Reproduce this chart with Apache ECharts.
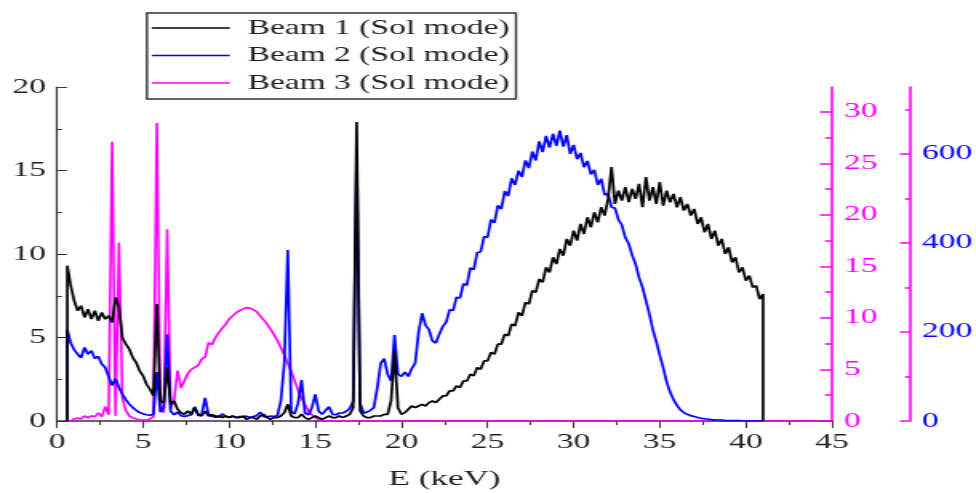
<!DOCTYPE html>
<html>
<head>
<meta charset="utf-8">
<script src="https://cdn.jsdelivr.net/npm/echarts@6/dist/echarts.min.js"></script>
<style>
  html, body { margin: 0; padding: 0; background: #fff; overflow: hidden; }
  /* the source figure is stretched sideways, so the chart is drawn narrow and scaled */
  #chart { width: 610px; height: 493px; transform: scaleX(1.6); transform-origin: 0 0; }
</style>
</head>
<body>
<div id="chart"></div>
<script>
// energy grid: every series is sampled every 0.2 keV from 0.6 keV
const STEP = 0.2
const START = 0.6

// Beam 1 (left axis)
const beam1 = [
  9.3, 8.1, 7.2, 6.6, 6.9, 6.2, 6.7, 6.1, 6.6, 6.0,        // 0.6 - 2.4
  6.5, 6.1, 6.3, 5.9, 7.4, 6.8, 5.0, 4.6, 4.3, 3.8,        // 2.6 - 4.4
  3.5, 3.0, 2.7, 2.2, 1.9, 1.5, 7.0, 1.2, 1.1, 3.2,        // 4.6 - 6.4
  1.0, 1.2, 0.7, 0.5, 0.4, 0.6, 0.4, 0.8, 0.4, 0.3,        // 6.6 - 8.4
  0.6, 0.3, 0.4, 0.2, 0.3, 0.2, 0.3, 0.2, 0.3, 0.2,        // 8.6 - 10.4
  0.2, 0.3, 0.1, 0.2, 0.2, 0.1, 0.3, 0.4, 0.2, 0.1,        // 10.6 - 12.4
  0.2, 0.2, 0.3, 0.5, 1.0, 0.3, 0.2, 0.2, 0.4, 0.2,        // 12.6 - 14.4
  0.1, 0.2, 0.3, 0.2, 0.1, 0.2, 0.3, 0.2, 0.2, 0.3,        // 14.6 - 16.4
  0.2, 0.3, 0.4, 0.8, 17.9, 0.6, 0.3, 0.2, 0.2, 0.3,       // 16.6 - 18.4
  0.3, 0.3, 0.4, 0.4, 1.2, 4.2, 0.8, 0.4, 0.5, 0.7,        // 18.6 - 20.4
  0.9, 0.8, 0.9, 1.0, 0.9, 1.1, 1.2, 1.1, 1.3, 1.5,        // 20.6 - 22.4
  1.5, 1.8, 1.8, 2.1, 2.0, 2.4, 2.4, 2.8, 2.7, 3.2,        // 22.6 - 24.4
  3.1, 3.6, 3.6, 4.1, 4.0, 4.6, 4.6, 5.2, 5.1, 5.8,        // 24.6 - 26.4
  5.7, 6.5, 6.3, 7.1, 7.0, 7.8, 7.7, 8.5, 8.3, 9.2,        // 26.6 - 28.4
  8.9, 9.8, 9.4, 10.3, 9.9, 10.9, 10.5, 11.4, 10.8, 11.8,  // 28.6 - 30.4
  11.2, 12.2, 11.6, 12.5, 11.9, 12.8, 12.3, 13.3, 15.2, 13.0, // 30.6 - 32.4
  13.8, 13.2, 14.0, 13.1, 13.9, 13.3, 14.2, 12.8, 14.6, 13.2, // 32.6 - 34.4
  14.0, 13.0, 14.3, 12.9, 13.8, 13.1, 13.6, 12.8, 13.4, 12.6, // 34.6 - 36.4
  13.0, 12.3, 12.7, 11.8, 12.2, 11.3, 11.8, 10.9, 11.4, 10.5, // 36.6 - 38.4
  10.9, 10.0, 10.4, 9.5, 9.8, 8.9, 9.2, 8.4, 8.7, 8.0,     // 38.6 - 40.4
  8.1, 7.3, 7.6                                            // 40.6 - 41.0
]

// Beam 2 (outer right axis)
const beam2 = [
  205, 175, 160, 150, 142, 165, 150, 158, 140, 145,        // 0.6 - 2.4
  128, 120, 100, 80, 95, 75, 60, 48, 38, 30,               // 2.6 - 4.4
  24, 19, 16, 14, 13, 15, 110, 20, 30, 195,                // 4.6 - 6.4
  22, 14, 20, 12, 10, 12, 14, 32, 12, 14,                  // 6.6 - 8.4
  52, 14, 10, 12, 9, 16, 10, 9, 11, 8,                     // 8.6 - 10.4
  10, 9, 11, 8, 10, 12, 20, 10, 9, 11,                     // 10.6 - 12.4
  10, 12, 45, 130, 384, 22, 16, 40, 92, 18,                // 12.6 - 14.4
  14, 30, 60, 22, 15, 24, 32, 15, 14, 18,                  // 14.6 - 16.4
  18, 22, 28, 45, 595, 40, 18, 20, 24, 30,                 // 16.6 - 18.4
  75, 130, 140, 105, 90, 193, 105, 100, 110, 100,          // 18.6 - 20.4
  118, 130, 200, 242, 215, 205, 180, 175, 195, 212,        // 20.6 - 22.4
  222, 250, 248, 278, 276, 308, 305, 344, 340, 378,        // 22.6 - 24.4
  380, 414, 412, 452, 445, 484, 476, 516, 505, 545,        // 24.6 - 26.4
  530, 562, 548, 585, 568, 605, 585, 628, 604, 640,        // 26.6 - 28.4
  614, 645, 618, 652, 616, 642, 600, 620, 588, 602,        // 28.6 - 30.4
  570, 584, 554, 564, 530, 544, 508, 510, 480, 478,        // 30.6 - 32.4
  452, 440, 412, 398, 372, 352, 322, 300, 270, 240,        // 32.6 - 34.4
  205, 178, 148, 120, 88, 65, 48, 35, 25, 19,              // 34.6 - 36.4
  15, 12, 10, 8, 6, 5, 4, 3, 2, 2,                         // 36.6 - 38.4
  2, 1, 1, 1, 1, 1, 0, 0, 0, 0,                            // 38.6 - 40.4
  0, 0, 0                                                  // 40.6 - 41.0
]

// Beam 3 (inner right axis)
const beam3 = [
  0, 0, 0.2, 0.3, 0.2, 0.5, 0.3, 0.5, 0.4, 0.8,            // 0.6 - 2.4
  0.4, 1.4, 0.6, 27.1, 0.5, 17.3, 2.2, 1.0, 0.5, 0.3,      // 2.6 - 4.4
  0.2, 0.1, 0.1, 0.1, 0.2, 0.4, 28.9, 1.5, 0.8, 18.6,      // 4.6 - 6.4
  1.2, 2.0, 4.9, 3.2, 3.9, 4.6, 5.0, 5.2, 5.4, 6.0,        // 6.6 - 8.4
  6.2, 7.6, 7.4, 8.1, 8.6, 9.0, 9.4, 9.9, 10.2, 10.5,      // 8.6 - 10.4
  10.7, 10.85, 11.0, 10.95, 10.8, 10.6, 10.2, 9.8, 9.4, 8.9, // 10.6 - 12.4
  8.4, 7.8, 7.1, 6.4, 5.6, 4.8, 3.9, 3.0, 2.2, 1.6,        // 12.6 - 14.4
  1.0, 0.6, 0.3, 0.15, 0.05, 0, 0, 0, 0, 0                 // 14.6 - 16.4
]

const xTicks = { min: 0, max: 45, interval: 5 }
const leftTicks = { min: 0, max: 20, interval: 5 }
const pinkTicks = [0, 5, 10, 15, 20, 25, 30]
const pinkMinor = [2.5, 7.5, 12.5, 17.5, 22.5, 27.5]
const pinkMax = 32.4
const blueTicks = [0, 200, 400, 600]
const blueMinor = [100, 300, 500, 700]
const blueMax = 750

const NAMES = ['Beam 1 (Sol mode)', 'Beam 2 (Sol mode)', 'Beam 3 (Sol mode)']
const FONT = 'Liberation Serif'
const PINK = '#ff00ff'
const SX = 1.6 // horizontal stretch applied by the css transform

function toPairs(values) {
  return values.map((v, i) => [+(START + i * STEP).toFixed(2), v])
}

const beam1Data = [[START, 0], ...toPairs(beam1)]
beam1Data.push([beam1Data[beam1Data.length - 1][0], 0])
const beam2Data = [[START, 0], ...toPairs(beam2)]
const beam3Data = [...toPairs(beam3), [45, 0]]

const OFFSET_BLUE = 78 / SX

function rightAxis(offset, max, ticks, minor, labelColor, withLabels, major, small) {
  return {
    type: 'value',
    position: 'right',
    offset,
    min: 0,
    max,
    splitLine: { show: false },
    axisLine: { show: withLabels, lineStyle: { color: PINK, width: 1.6 } },
    axisTick: {
      show: true,
      inside: true,
      customValues: withLabels ? ticks : minor,
      length: (withLabels ? major : small) / SX,
      lineStyle: { color: PINK, width: 1.5 },
    },
    axisLabel: {
      show: withLabels,
      customValues: ticks,
      margin: 12 / SX,
      color: labelColor,
      fontFamily: FONT,
      fontSize: 21,
    },
  }
}

const chart = echarts.init(document.getElementById('chart'))

chart.setOption({
  animation: false,
  textStyle: { fontFamily: FONT },
  legend: {
    orient: 'vertical',
    left: 147 / SX,
    top: 13,
    data: NAMES.map(name => ({ name, icon: 'rect' })),
    itemWidth: 78 / SX,
    itemHeight: 1.6,
    itemGap: 6.5,
    padding: [4.5, 4, 5.5, 3],
    borderColor: '#333',
    borderWidth: 1.4,
    backgroundColor: '#fff',
    textStyle: { fontFamily: FONT, fontSize: 21, color: '#1e1e1e', padding: [0, 0, 0, 6] },
  },
  grid: {
    left: 57 / SX,
    right: 144 / SX,
    top: 87,
    bottom: 72,
    outerBoundsMode: 'none',
  },
  xAxis: {
    type: 'value',
    ...xTicks,
    z: 3,
    splitLine: { show: false },
    axisLine: { lineStyle: { color: '#4a234a', width: 1.5 } },
    axisTick: { length: 7, lineStyle: { color: '#333' } },
    minorTick: { show: true, splitNumber: 2, length: 4, lineStyle: { color: '#333' } },
    axisLabel: { margin: 11, color: '#1e1e1e', fontFamily: FONT, fontSize: 21 },
    name: 'E (keV)',
    nameLocation: 'middle',
    nameGap: 47,
    nameTextStyle: { color: '#1e1e1e', fontFamily: FONT, fontSize: 22 },
  },
  yAxis: [
    {
      type: 'value',
      ...leftTicks,
      splitLine: { show: false },
      axisLine: { show: true, lineStyle: { color: '#333', width: 1.2 } },
      axisTick: { show: true, inside: true, length: 10 / SX, lineStyle: { color: '#333' } },
      minorTick: { show: true, splitNumber: 2, length: 5 / SX, lineStyle: { color: '#333' } },
      axisLabel: { margin: 11 / SX, color: '#1e1e1e', fontFamily: FONT, fontSize: 21 },
    },
    rightAxis(0, pinkMax, pinkTicks, pinkMinor, PINK, true, 12, 7),
    rightAxis(0, pinkMax, pinkTicks, pinkMinor, PINK, false, 12, 7),
    rightAxis(OFFSET_BLUE, blueMax, blueTicks, blueMinor, '#0000ff', true, 10, 5),
    rightAxis(OFFSET_BLUE, blueMax, blueTicks, blueMinor, '#0000ff', false, 10, 5),
  ],
  // drawn bottom to top: pink, blue, black
  series: [
    {
      name: NAMES[2],
      type: 'line',
      yAxisIndex: 1,
      data: beam3Data,
      symbol: 'none',
      lineStyle: { color: PINK, width: 1.6 },
      itemStyle: { color: PINK },
    },
    {
      name: NAMES[1],
      type: 'line',
      yAxisIndex: 3,
      data: beam2Data,
      symbol: 'none',
      lineStyle: { color: '#0000ff', width: 1.7 },
      itemStyle: { color: '#0000ff' },
    },
    {
      name: NAMES[0],
      type: 'line',
      yAxisIndex: 0,
      data: beam1Data,
      symbol: 'none',
      lineStyle: { color: '#000', width: 1.7 },
      itemStyle: { color: '#000' },
    },
  ],
})
</script>
</body>
</html>
